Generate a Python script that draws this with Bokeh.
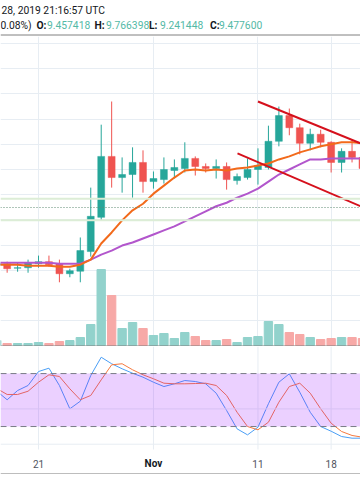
import pandas as pd
from bokeh.plotting import figure
from bokeh.layouts import column
from bokeh.models import Range1d, Grid, FixedTicker, Span, BoxAnnotation, ColumnDataSource
from bokeh.core.properties import value
from bokeh.embed import file_html
from bokeh.resources import INLINE

# ---------------- data ----------------
dates = pd.date_range("2019-10-17", "2019-11-21", freq="D")
opens = [7.60, 7.63, 7.54, 7.55, 7.63, 7.67, 7.63, 7.43, 7.48, 7.87, 8.55, 9.76, 9.34, 9.40, 9.64,
         9.26, 9.30, 9.48, 9.52, 9.72, 9.56, 9.52, 9.56, 9.28, 9.34, 9.50, 9.54, 10.06, 10.57,
         10.33, 10.02, 10.20, 10.04, 9.64, 9.86, 9.74]
highs = [7.66, 7.67, 7.65, 7.71, 7.79, 7.79, 7.71, 7.53, 8.15, 9.14, 10.39, 10.85, 9.74, 9.94, 9.88,
         9.46, 9.74, 9.70, 10.04, 9.76, 9.62, 9.70, 9.64, 9.42, 9.72, 9.92, 10.37, 10.75, 10.71,
         10.41, 10.31, 10.29, 10.06, 9.92, 10.08, 9.76]
lows = [7.55, 7.45, 7.47, 7.45, 7.55, 7.57, 7.26, 7.36, 7.26, 7.77, 8.49, 9.14, 9.04, 8.94, 9.04,
        9.12, 9.22, 9.32, 9.44, 9.38, 9.44, 9.32, 9.10, 9.20, 9.30, 9.20, 9.50, 9.96, 10.18,
        9.80, 9.88, 9.94, 9.44, 9.44, 9.64, 9.40]
closes = [7.63, 7.53, 7.55, 7.65, 7.67, 7.61, 7.43, 7.49, 7.89, 8.57, 9.76, 9.34, 9.40, 9.64, 9.26,
          9.32, 9.50, 9.54, 9.72, 9.56, 9.52, 9.56, 9.30, 9.36, 9.50, 9.58, 10.06, 10.57, 10.33,
          10.02, 10.20, 10.04, 9.64, 9.86, 9.74, 9.52]
volumes = [5, 2, 2, 2, 3, 2, 4, 5, 8, 21, 76, 50, 17, 23, 17, 10, 12, 7, 13, 9, 5, 5, 6, 3, 8,
           9, 24, 21, 13, 11, 8, 6, 7, 8, 8, 7]
ma_fast = [7.61, 7.61, 7.61, 7.59, 7.59, 7.59, 7.57, 7.57, 7.61, 7.71, 8.03, 8.25, 8.49, 8.69, 8.82,
           9.02, 9.18, 9.34, 9.48, 9.50, 9.48, 9.50, 9.48, 9.52, 9.54, 9.58, 9.62, 9.70, 9.76,
           9.84, 9.90, 9.96, 10.00, 10.04, 10.04, 10.02]
ma_slow = [7.65, 7.65, 7.65, 7.65, 7.65, 7.65, 7.63, 7.63, 7.63, 7.71, 7.81, 7.89, 7.99, 8.05, 8.13,
           8.21, 8.29, 8.37, 8.47, 8.57, 8.67, 8.77, 8.84, 8.94, 9.02, 9.12, 9.26, 9.40, 9.50,
           9.60, 9.70, 9.70, 9.72, 9.72, 9.72, 9.72]
stoch_k = [60.2, 50.3, 60.8, 66.5, 82.3, 86.1, 66.5, 40.1, 48.7, 77.8, 98.5, 91.1, 85.4, 80.4, 75.9,
           70.2, 65.3, 68.4, 72.1, 71.0, 68.4, 57.8, 38.2, 17.4, 10.6, 19.3, 45.8, 70.2, 79.7,
           58.9, 36.2, 20.0, 14.7, 8.7, 6.8, 6.8]
stoch_d = [63.1, 56.3, 56.3, 60.0, 70.2, 78.6, 76.7, 62.7, 50.3, 55.2, 72.9, 89.9, 91.1, 84.3, 78.6,
           74.1, 69.1, 68.4, 68.4, 68.7, 69.1, 66.5, 55.2, 36.2, 20.0, 16.3, 24.9, 47.6, 65.3,
           69.1, 57.8, 40.1, 23.8, 14.4, 9.9, 7.9]
trend_upper_t = ["2019-11-11 00:00", "2019-11-21 12:00"]
trend_upper_p = [10.85, 9.96]
trend_lower_t = ["2019-11-09 01:00", "2019-11-21 12:00"]
trend_lower_p = [9.82, 8.71]
level_lines = [8.92, 8.49]
dotted_level = [8.745]
price_grid = [6.5, 7.0, 7.5, 8.0, 8.5, 9.0, 9.5, 10.0, 10.5, 11.0, 11.5, 12.0]
tick_dates = ["2019-10-21", "2019-11-01", "2019-11-11", "2019-11-18"]
tick_labels = ["21", "Nov", "11", "18"]
tick_styles = ["normal", "bold", "normal", "normal"]
stoch_bands = [20, 80]
stoch_grid = [0, 40]
header_time = "28, 2019 21:16:57 UTC"
header_change = "0.08%)"
ohlc_labels = ["O:", "H:", "L:", "C:"]
ohlc_values = ["9.457418", "9.766398", "9.241448", "9.477600"]

# ---------------- helpers ----------------
base = pd.Timestamp("2019-10-17")
def day_index(t):
    return (pd.Timestamp(t) - base) / pd.Timedelta(days=1)

idx = [day_index(d) for d in dates]
tick_idx = [day_index(t) for t in tick_dates]

UP, DOWN = "#26a69a", "#ef5350"
VUP, VDOWN = "#92d2cc", "#f7a9a7"
GRID = "#e7edf3"
FONT = value("Roboto")
FS = "10.3px"

up = [c >= o for o, c in zip(opens, closes)]
src = ColumnDataSource(dict(
    x=idx, open=opens, high=highs, low=lows, close=closes, vol=volumes,
    top=[max(o, c) for o, c in zip(opens, closes)],
    bottom=[min(o, c) for o, c in zip(opens, closes)],
    color=[UP if u else DOWN for u in up],
    vcolor=[VUP if u else VDOWN for u in up],
    fast=ma_fast, slow=ma_slow, k=stoch_k, d=stoch_d,
))

W = 360
xr = Range1d(0.364, 34.81)

def bare(p):
    p.center = [c for c in p.center if not isinstance(c, Grid)]
    p.outline_line_color = None
    p.min_border = 0
    p.background_fill_color = "white"
    p.border_fill_color = "white"

# ---------------- header ----------------
hdr = figure(width=W, height=36, x_range=Range1d(0, W), y_range=Range1d(36, 0),
             output_backend="svg", toolbar_location=None,
             x_axis_location=None, y_axis_location=None)
bare(hdr)
hdr.text(x=[1], y=[9.5], text=[header_time], text_font=FONT, text_font_size=FS,
         text_color="#131722", text_baseline="middle")
hdr.text(x=[0], y=[24.5], text=[header_change], text_font=FONT, text_font_size=FS,
         text_color="#131722", text_baseline="middle")
hdr.text(x=[36, 94, 148.5, 209.5], y=[24.5] * 4, text=ohlc_labels, text_font=FONT,
         text_font_size=FS, text_font_style="bold", text_color="#131722",
         text_baseline="middle")
hdr.text(x=[46.5, 105.5, 159.5, 218.5], y=[24.5] * 4, text=ohlc_values, text_font=FONT,
         text_font_size=FS, text_color="#53b9a6", text_baseline="middle")
hdr.segment(x0=[0], x1=[W], y0=[34.5], y1=[34.5], line_color="#808080", line_width=1)

# ---------------- main price pane ----------------
p = figure(width=W, height=310, x_range=xr, y_range=Range1d(5.985, 12.141),
           output_backend="svg", toolbar_location=None,
           x_axis_location=None, y_axis_location=None)
bare(p)
p.extra_y_ranges = {"vol": Range1d(-1, 309)}
p.add_layout(Grid(dimension=0, ticker=FixedTicker(ticks=tick_idx), grid_line_color=GRID), "center")
p.add_layout(Grid(dimension=1, ticker=FixedTicker(ticks=price_grid), grid_line_color=GRID), "center")

for lv in level_lines:
    p.add_layout(Span(location=lv, dimension="width", line_color="#dcedd6", line_width=2))
for lv in dotted_level:
    p.add_layout(Span(location=lv, dimension="width", line_color="#5f8a72", line_width=1,
                      line_dash="1 2"))

p.vbar(x="x", top="vol", bottom=0, width=0.8, color="vcolor", y_range_name="vol", source=src)
p.segment(x0="x", x1="x", y0="low", y1="high", color="color", line_width=1, source=src)
p.vbar(x="x", top="top", bottom="bottom", width=0.66, fill_color="color", line_color="color",
       line_width=0.5, source=src)
p.line(x="x", y="slow", line_color="#b256cc", line_width=2, source=src)
p.line(x="x", y="fast", line_color="#f26a1b", line_width=2, source=src)

p.line(x=[day_index(t) for t in trend_upper_t], y=trend_upper_p, line_color="#d5101c", line_width=2)
p.line(x=[day_index(t) for t in trend_lower_t], y=trend_lower_p, line_color="#d5101c", line_width=2)
p.add_layout(Span(location=-0.5, dimension="width", line_color="#7f7f7f", line_width=1,
                  y_range_name="vol"))

# ---------------- stoch RSI pane ----------------
s = figure(width=W, height=128, x_range=xr, y_range=Range1d(-34.31, 110.65),
           output_backend="svg", toolbar_location=None,
           x_axis_location=None, y_axis_location=None)
bare(s)
s.segment(x0=tick_idx, x1=tick_idx, y0=[-6.0] * len(tick_idx), y1=[110.65] * len(tick_idx),
          line_color=GRID, line_width=1)
for g in stoch_grid:
    s.add_layout(Span(location=g, dimension="width", line_color=GRID, line_width=1))
s.add_layout(BoxAnnotation(bottom=stoch_bands[0], top=stoch_bands[1], fill_color="#9915ff",
                           fill_alpha=0.2, line_alpha=0))
for b in stoch_bands:
    s.add_layout(Span(location=b, dimension="width", line_color="#787b86", line_width=1,
                      line_dash="6 4"))
s.line(x="x", y="k", line_color="#4a9ef5", line_width=1, source=src)
s.line(x="x", y="d", line_color="#f5793f", line_width=1, source=src)
tsrc = ColumnDataSource(dict(x=tick_idx, y=[-21.9] * len(tick_idx), t=tick_labels,
                             st=tick_styles,
                             c=["#131722" if st == "bold" else "#50535e" for st in tick_styles]))
s.text(x="x", y="y", text="t", text_font_style="st", text_color="c", text_font=FONT,
       text_font_size="10px", text_align="center", text_baseline="middle", source=tsrc)
s.add_layout(Span(location=-33.74, dimension="width", line_color="#7f7f7f", line_width=1))

layout = column(hdr, p, s, spacing=0)
open("out.html", "w").write(file_html(layout, INLINE))
